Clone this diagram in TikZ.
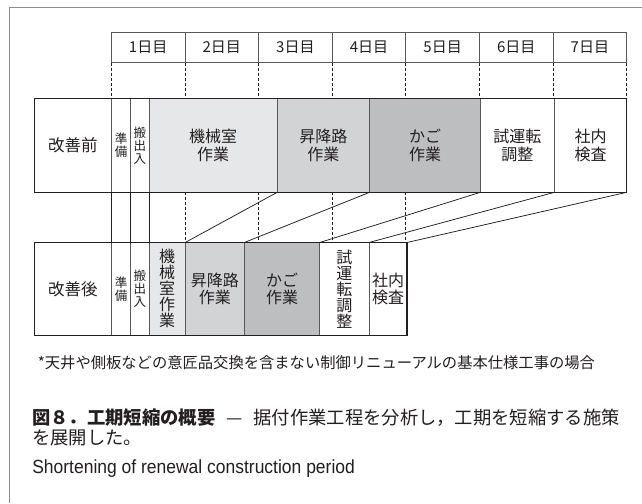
\documentclass[tikz,border=0pt]{standalone}
\usepackage{fontspec}
\setmainfont{Noto Sans CJK JP}
\newfontfamily\enfont[FakeStretch=0.92]{Liberation Sans}
\definecolor{fillL}{HTML}{E6E7E8}
\definecolor{fillM}{HTML}{D1D3D4}
\definecolor{fillD}{HTML}{BCBEC0}
\definecolor{cellline}{HTML}{58595B}
\definecolor{boxline}{HTML}{231F20}
\definecolor{framegray}{HTML}{8C8C8C}
\definecolor{txt}{HTML}{231F20}
\begin{document}
\begin{tikzpicture}[x=1pt,y=-1pt,
  every node/.style={text=txt},
  cell/.style={draw=cellline, line width=0.8pt, inner sep=0pt, outer sep=0pt,
    anchor=north west, align=center, minimum height=93.6pt,
    font=\fontsize{16}{17.5}\selectfont},
  locell/.style={cell, minimum height=92.8pt},
  narrow/.style={font=\fontsize{12.5}{13}\selectfont},
  tall/.style={font=\fontsize{16}{16}\selectfont},
  daycell/.style={draw=cellline, line width=0.8pt, inner sep=0pt, outer sep=0pt,
    anchor=north west, minimum width=73.63pt, minimum height=30pt,
    font=\fontsize{15}{15}\selectfont},
  labelfont/.style={font=\fontsize{16.5}{17}\selectfont},
  outerbox/.style={draw=boxline, line width=1.4pt},
  guide/.style={draw=boxline, line width=0.75pt, dash pattern=on 3pt off 2pt},
  conn/.style={draw=boxline, line width=0.75pt},
  frameline/.style={draw=framegray, line width=1pt},
  plain/.style={inner sep=0pt, outer sep=0pt, anchor=base west}]
\useasboundingbox (0,0) rectangle (642,503);
\fill[white] (0,0) rectangle (642,503);
\draw[frameline] (9,503) -- (9,7.5) -- (642,7.5);

% day header
\foreach \i in {1,...,7}
  \node[daycell] (d\i) at ({111.3+(\i-1)*73.63},32.7) {{\i}日目};

% upper row (before improvement)
\node[cell, labelfont, minimum width=77pt] (u0) at (34.3,98.7) {改善前};
\node[cell, narrow, minimum width=19.4pt] (u1) at (111.3,98.7) {準\\備};
\node[cell, narrow, minimum width=18.3pt] (u2) at (130.7,98.7) {搬\\出\\入};
\node[cell, fill=fillL, minimum width=128.2pt] (u3) at (149,98.7) {機械室\\作業};
\node[cell, fill=fillM, minimum width=92.4pt] (u4) at (277.2,98.7) {昇降路\\作業};
\node[cell, fill=fillD, minimum width=110.8pt] (u5) at (369.6,98.7) {かご\\作業};
\node[cell, minimum width=74.1pt] (u6) at (480.4,98.7) {試運転\\調整};
\node[cell, minimum width=72.2pt] (u7) at (554.5,98.7) {社内\\検査};
\draw[outerbox] (u0.north west) rectangle (u7.south east);

% lower row (after improvement)
\node[locell, labelfont, minimum width=77pt] (l0) at (34.3,242.5) {改善後};
\node[locell, narrow, minimum width=19.4pt] (l1) at (111.3,242.5) {準\\備};
\node[locell, narrow, minimum width=18.3pt] (l2) at (130.7,242.5) {搬\\出\\入};
\node[locell, tall, fill=fillL, minimum width=36.2pt] (l3) at (149,242.5) {機\\械\\室\\作\\業};
\node[locell, fill=fillM, minimum width=59.1pt] (l4) at (185.2,242.5) {昇降路\\作業};
\node[locell, fill=fillD, minimum width=75.4pt] (l5) at (244.3,242.5) {かご\\作業};
\node[locell, tall, minimum width=49.3pt] (l6) at (319.7,242.5) {試\\運\\転\\調\\整};
\node[locell, minimum width=38pt] (l7) at (369,242.5) {社内\\検査};
\draw[outerbox] (l0.north west) rectangle (l7.south east);

% dashed guides: header to upper row
\foreach \i in {1,...,7}
  \draw[guide] (d\i.south west) -- (d\i.south west |- u0.north);
\draw[guide] (d7.south east) -- (d7.south east |- u0.north);
% dashed guides: upper row to lower row
\foreach \i in {2,...,5}
  \draw[guide] (d\i.south west |- u0.south) -- (d\i.south west |- l0.north);

% connectors between rows
\draw[conn] (u1.south west) -- (l1.north west);
\draw[conn] (u2.south west) -- (l2.north west);
\draw[conn] (u3.south west) -- (l3.north west);
\draw[conn] (u3.south east) -- (l3.north east);
\draw[conn] (u4.south east) -- (l4.north east);
\draw[conn] (u5.south east) -- (l5.north east);
\draw[conn] (u6.south east) -- (l6.north east);
\draw[conn] (u7.south east) -- (l7.north east);

% texts
\node[plain, font=\fontsize{15.3}{16}\selectfont] (note) at (37.8,368.5)
  {*天井や側板などの意匠品交換を含まない制御リニューアルの基本仕様工事の場合};
\node[plain, font=\fontsize{18.3}{18}\selectfont] (cap1) at (32.3,424.5)
  {\textbf{図８．工期短縮の概要}\hspace{0.6em}—\hspace{0.6em}据付作業工程を分析し，工期を短縮する施策};
\node[plain, font=\fontsize{18.3}{18}\selectfont] (cap2) at (32.3,444.5) {を展開した。};
\node[plain, font=\enfont\fontsize{19}{19}\selectfont] (en) at (32.3,473)
  {Shortening of renewal construction period};
\end{tikzpicture}
\end{document}
